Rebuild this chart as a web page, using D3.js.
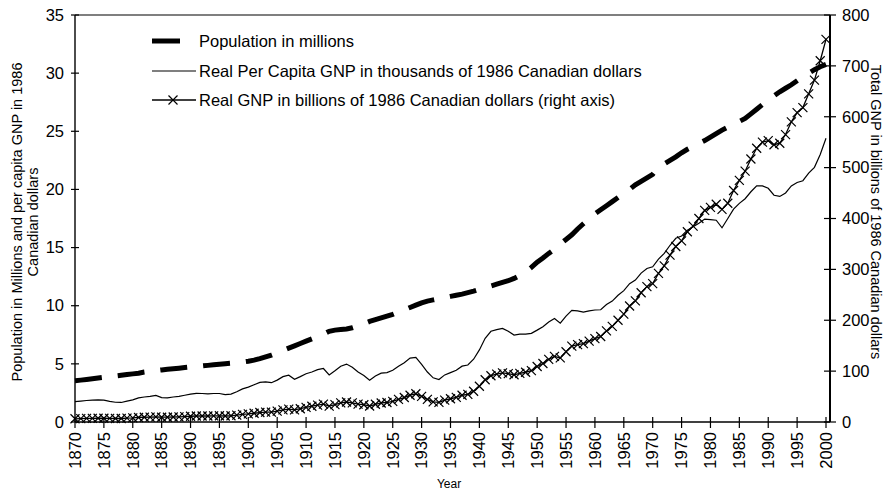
<!DOCTYPE html>
<html><head><meta charset="utf-8">
<script src="https://cdn.jsdelivr.net/npm/d3@7"></script>
<style>body{margin:0;background:#fff}svg{display:block}text{font-family:"Liberation Sans",Arial,sans-serif;fill:#000}</style>
</head><body><svg id="c" width="890" height="494"></svg>
<script>
const startYear = 1870;
const population = [3.55,3.6,3.66,3.72,3.78,3.84,3.9,3.96,4.02,4.08,4.14,4.2,4.3,4.37,4.42,4.48,4.53,4.58,4.63,4.68,4.73,4.78,4.82,4.87,4.92,4.96,5.01,5.05,5.10,5.16,5.23,5.32,5.45,5.60,5.76,5.95,6.15,6.35,6.55,6.75,6.95,7.15,7.35,7.55,7.80,7.90,7.95,8.00,8.10,8.25,8.45,8.65,8.80,8.95,9.10,9.25,9.45,9.65,9.85,10.05,10.25,10.40,10.50,10.60,10.70,10.80,10.90,11.00,11.12,11.25,11.40,11.55,11.70,11.85,12.00,12.15,12.35,12.60,12.90,13.30,13.75,14.10,14.50,14.85,15.30,15.70,16.10,16.60,17.05,17.50,17.90,18.25,18.60,18.95,19.30,19.65,20.00,20.40,20.70,21.00,21.30,21.90,22.20,22.50,22.80,23.15,23.45,23.70,23.95,24.20,24.50,24.80,25.10,25.35,25.60,25.85,26.10,26.50,26.90,27.30,27.70,28.05,28.40,28.70,29.00,29.35,29.70,30.00,30.30,30.55,30.75];
const perCapita = [1.75,1.80,1.85,1.88,1.90,1.88,1.78,1.70,1.68,1.80,1.90,2.08,2.15,2.20,2.28,2.10,2.08,2.15,2.20,2.30,2.40,2.46,2.45,2.42,2.45,2.45,2.35,2.40,2.60,2.85,3.00,3.20,3.40,3.45,3.38,3.60,3.90,4.02,3.67,3.90,4.15,4.30,4.50,4.60,4.05,4.40,4.80,4.98,4.70,4.30,4.00,3.60,3.95,4.20,4.25,4.45,4.80,5.10,5.50,5.55,4.95,4.30,3.80,3.65,4.05,4.25,4.45,4.80,4.90,5.40,6.20,7.20,7.80,7.95,8.05,7.80,7.48,7.55,7.55,7.62,7.90,8.20,8.60,8.90,8.50,9.10,9.60,9.55,9.45,9.55,9.63,9.65,10.10,10.40,10.90,11.30,11.90,12.20,12.80,13.20,13.35,14.00,14.50,15.20,15.80,16.00,16.50,16.80,17.10,17.45,17.40,17.35,16.70,17.50,18.30,18.80,19.20,19.80,20.30,20.30,20.10,19.50,19.40,19.70,20.30,20.60,20.75,21.40,21.90,23.00,24.40];
const realGNP = [6.3,6.7,7.0,7.2,7.4,7.4,7.1,6.9,6.9,7.5,8.0,8.9,9.3,9.6,10.1,9.4,9.4,9.8,10.1,10.7,11.3,11.8,11.8,11.8,12.1,12.2,11.8,12.2,13.4,14.9,15.9,17.2,18.6,19.4,19.4,21.3,23.7,25.3,23.7,26.1,28.6,31.0,33.3,35.0,31.2,34.3,37.6,39.3,37.6,35.0,34.0,31.4,34.8,37.4,38.3,40.5,44.4,48.1,52.6,55.5,50.5,44.5,39.7,38.5,43.1,45.7,48.3,52.6,54.3,60.5,70.3,83.0,91.0,94.0,96.7,95.0,92.8,95.5,97.8,100.9,109,115,123,129,126,138,149,152,154,159,164,168,179,188,200,212,228,238,254,266,272,292,307,328,345,356,374,385,400,416,422,428,418,430,455,475,493,517,538,550,553,545,548,565,590,608,618,645,672,710,752];
const years = population.map((d,i)=>startYear+i);
const xTicks = d3.range(1870, 2001, 5);
const leftTicks = [0,5,10,15,20,25,30,35];
const rightTicks = [0,100,200,300,400,500,600,700,800];
const legendLabels = ["Population in millions","Real Per Capita GNP in thousands of 1986 Canadian dollars","Real GNP in billions of 1986 Canadian dollars (right axis)"];

const svg = d3.select("#c");
const L=75, R=830, T=15, B=422;
const x = d3.scaleLinear().domain([1870,2000]).range([L,826]);
const yL = d3.scaleLinear().domain([0,35]).range([B,T]);
const yR = d3.scaleLinear().domain([0,800]).range([B,T]);

// frame lines
svg.append("line").attr("x1",L).attr("x2",R).attr("y1",T).attr("y2",T).attr("stroke","#000").attr("stroke-width",1.2);
svg.append("line").attr("x1",L).attr("x2",R).attr("y1",B).attr("y2",B).attr("stroke","#000").attr("stroke-width",1.4);
svg.append("line").attr("x1",L).attr("x2",L).attr("y1",T).attr("y2",B).attr("stroke","#000").attr("stroke-width",1.4);
svg.append("line").attr("x1",R).attr("x2",R).attr("y1",T).attr("y2",B).attr("stroke","#000").attr("stroke-width",2);

// left axis
const gl = svg.append("g");
gl.selectAll("line").data(leftTicks).join("line").attr("x1",L-4).attr("x2",L+4).attr("y1",d=>yL(d)).attr("y2",d=>yL(d)).attr("stroke","#000").attr("stroke-width",1.2);
gl.selectAll("text").data(leftTicks).join("text").attr("x",L-11).attr("y",d=>yL(d)).attr("dy","0.35em").attr("text-anchor","end").attr("font-size",16.5).text(d=>d);
// right axis
const gr = svg.append("g");
gr.selectAll("line").data(rightTicks).join("line").attr("x1",R-6).attr("x2",R+6).attr("y1",d=>yR(d)).attr("y2",d=>yR(d)).attr("stroke","#000").attr("stroke-width",1.2);
gr.selectAll("text").data(rightTicks).join("text").attr("x",R+12).attr("y",d=>yR(d)).attr("dy","0.35em").attr("text-anchor","start").attr("font-size",16.5).text(d=>d);
// bottom axis
const gb = svg.append("g");
gb.selectAll("line").data(xTicks).join("line").attr("x1",d=>x(d)).attr("x2",d=>x(d)).attr("y1",B-5).attr("y2",B+6).attr("stroke","#000").attr("stroke-width",1.2);
gb.selectAll("text").data(xTicks).join("text")
  .attr("transform",d=>`translate(${x(d)},${B+10}) rotate(-90)`)
  .attr("dy","0.35em").attr("text-anchor","end").attr("font-size",16.5).text(d=>d);

// axis titles
svg.append("text").attr("transform","translate(449,488)").attr("text-anchor","middle").attr("font-size",12).text("Year");
svg.append("text").attr("transform","translate(17,222) rotate(-90)").attr("text-anchor","middle").attr("dy","0.35em").attr("font-size",14.5).text("Population in Millions and per capita GNP in 1986");
svg.append("text").attr("transform","translate(33,222) rotate(-90)").attr("text-anchor","middle").attr("dy","0.35em").attr("font-size",14.5).text("Canadian dollars");
svg.append("text").attr("transform","translate(876,212) rotate(90)").attr("text-anchor","middle").attr("dy","0.35em").attr("font-size",14.5).text("Total GNP in billions of 1986 Canadian dollars");

// series
const lineL = d3.line().x((d,i)=>x(years[i])).y(d=>yL(d));
const lineR = d3.line().x((d,i)=>x(years[i])).y(d=>yR(d));
svg.append("path").attr("d",lineL(population)).attr("fill","none").attr("stroke","#000").attr("stroke-width",5).attr("stroke-dasharray","27,16");
svg.append("path").attr("d",lineL(perCapita)).attr("fill","none").attr("stroke","#000").attr("stroke-width",1.2);
svg.append("path").attr("d",lineR(realGNP)).attr("fill","none").attr("stroke","#000").attr("stroke-width",1.3);
const xm = "M-4.5,-4.5L4.5,4.5M-4.5,4.5L4.5,-4.5";
svg.append("g").selectAll("path").data(realGNP).join("path")
  .attr("transform",(d,i)=>`translate(${x(years[i])},${yR(d)})`).attr("d",xm).attr("stroke","#000").attr("stroke-width",1.2).attr("fill","none");

// legend
const lg = svg.append("g");
const ly = [41,71,100];
lg.append("line").attr("x1",152).attr("x2",180).attr("y1",ly[0]).attr("y2",ly[0]).attr("stroke","#000").attr("stroke-width",5);
lg.append("line").attr("x1",152).attr("x2",196).attr("y1",ly[1]).attr("y2",ly[1]).attr("stroke","#000").attr("stroke-width",1.2);
lg.append("line").attr("x1",152).attr("x2",196).attr("y1",ly[2]).attr("y2",ly[2]).attr("stroke","#000").attr("stroke-width",1.3);
lg.append("path").attr("transform",`translate(173,${ly[2]})`).attr("d",xm).attr("stroke","#000").attr("stroke-width",1.2);
lg.selectAll("text").data(legendLabels).join("text").attr("x",199).attr("y",(d,i)=>ly[i]).attr("dy","0.35em").attr("font-size",16.5).text(d=>d);
</script></body></html>
